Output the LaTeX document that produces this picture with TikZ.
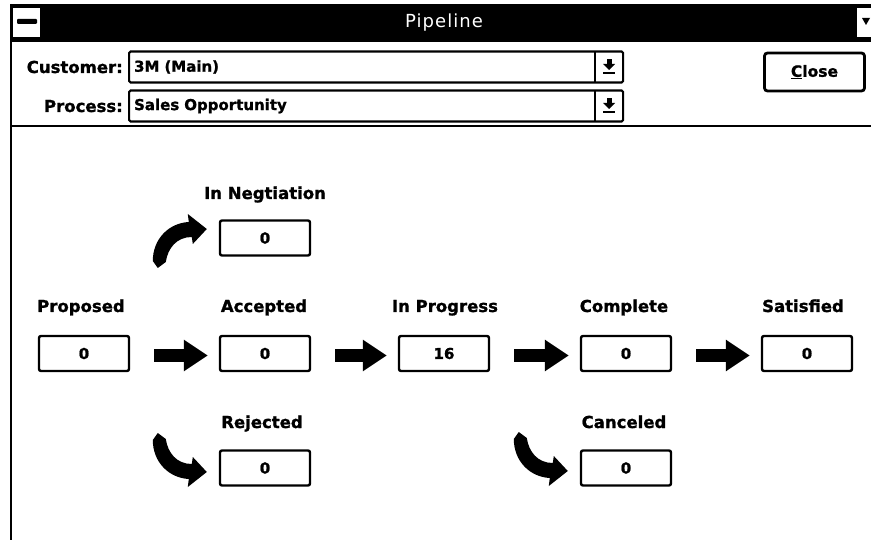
\documentclass[tikz,border=0pt]{standalone}
\usepackage{fontspec}
\setmainfont{DejaVu Sans}
\usetikzlibrary{arrows.meta}
\begin{document}
\begin{tikzpicture}[x=1pt,y=-1pt,
  heavy/.style={font=\fontsize{#1}{#1}\selectfont\bfseries\addfontfeature{FakeBold=1.2}},
  lbl/.style={inner sep=0pt, anchor=base, heavy=16.5},
  valbox/.style={draw, line width=2.4pt, rounded corners=2pt,
    minimum width=90pt, minimum height=35pt, inner sep=0pt, heavy=15},
  combo/.style={draw, line width=2.2pt, rounded corners=1.5pt, anchor=west,
    minimum height=31pt, text width=484pt, inner xsep=5pt, inner ysep=0pt,
    align=left, heavy=15},
  flowarrow/.style={line width=13pt, -{Triangle[length=24pt,width=30pt]}},
  curlup/.pic={
    \fill (0,0) -- (-19,-15) -- (-18,-7)
      .. controls (-38,-6) and (-54,10) .. (-54,32)
      -- (-49,39) -- (-41,33)
      .. controls (-39,19) and (-30,8) .. (-15,8)
      -- (-14,15) -- cycle;
  },
  dropicon/.pic={
    \fill (-2.5,-8) rectangle (2.5,-3);
    \fill (-6,-3) -- (6,-3) -- (0,3) -- cycle;
    \fill (-6,5) rectangle (6,7.5);
  }]
\useasboundingbox (0,0) rectangle (871,540);

% window frame and title bar
\fill (10,4) rectangle (871,42);
\draw[line width=2.5pt] (11,4) -- (11,540);
\fill[white] (13,8) rectangle (40,37);
\fill[rounded corners=1pt] (17,19) rectangle (37,24);
\fill[white] (857,8) rectangle (871,37);
\fill (862,18) -- (870,18) -- (866,25) -- cycle;
\node[text=white, inner sep=0pt,
  font=\fontsize{18}{20}\selectfont\addfontfeature{LetterSpace=6}]
  (title) at (444,23) {Pipeline};
\draw[line width=2.5pt] (11,126) -- (871,126);

% customer / process selectors
\node[lbl, anchor=base east] (custlbl) at (123,73) {Customer:};
\node[combo] (cust) at (128,67) {3M (Main)};
\draw[line width=2pt] (595,51) -- (595,83);
\pic at (609,67) {dropicon};
\node[lbl, anchor=base east] (proclbl) at (123,112) {Process:};
\node[combo] (proc) at (128,106) {Sales Opportunity};
\draw[line width=2pt] (595,90) -- (595,122);
\pic at (609,106) {dropicon};
\node[draw, line width=2.8pt, rounded corners=3pt, minimum width=100pt,
  minimum height=38pt, heavy=15.5]
  (close) at (814.5,72) {\underline{C}lose};

% pipeline stages
\node[valbox] (prop) at (84,353.5) {0};
\node[valbox] (acc)  at (265,353.5) {0};
\node[valbox] (prog) at (444,353.5) {16};
\node[valbox] (comp) at (626,353.5) {0};
\node[valbox] (sat)  at (807,353.5) {0};
\node[valbox] (neg)  at (265,238) {0};
\node[valbox] (rej)  at (265,468) {0};
\node[valbox] (canc) at (626,468) {0};

\node[lbl] (propl) at (81,312) {Proposed};
\node[lbl] (accl)  at (264,312) {Accepted};
\node[lbl] (progl) at (445,312) {In Progress};
\node[lbl] (compl) at (624,312) {Complete};
\node[lbl] (satl)  at (803,312) {Satisfied};
\node[lbl] (negl)  at (265,199) {In Negtiation};
\node[lbl] (rejl)  at (262,428) {Rejected};
\node[lbl] (cancl) at (624,428) {Canceled};

% transitions
\draw[flowarrow] ([xshift=24pt,yshift=-2pt]prop.east) -- ([xshift=-11pt,yshift=-2pt]acc.west);
\draw[flowarrow] ([xshift=24pt,yshift=-2pt]acc.east) -- ([xshift=-11pt,yshift=-2pt]prog.west);
\draw[flowarrow] ([xshift=24pt,yshift=-2pt]prog.east) -- ([xshift=-11pt,yshift=-2pt]comp.west);
\draw[flowarrow] ([xshift=24pt,yshift=-2pt]comp.east) -- ([xshift=-11pt,yshift=-2pt]sat.west);
\pic at ([xshift=-12pt,yshift=9pt]neg.west) {curlup};
\pic[yscale=-1] at ([xshift=-12pt,yshift=-4pt]rej.west) {curlup};
\pic[yscale=-1] at ([xshift=-12pt,yshift=-3pt]canc.west) {curlup};
\end{tikzpicture}
\end{document}
